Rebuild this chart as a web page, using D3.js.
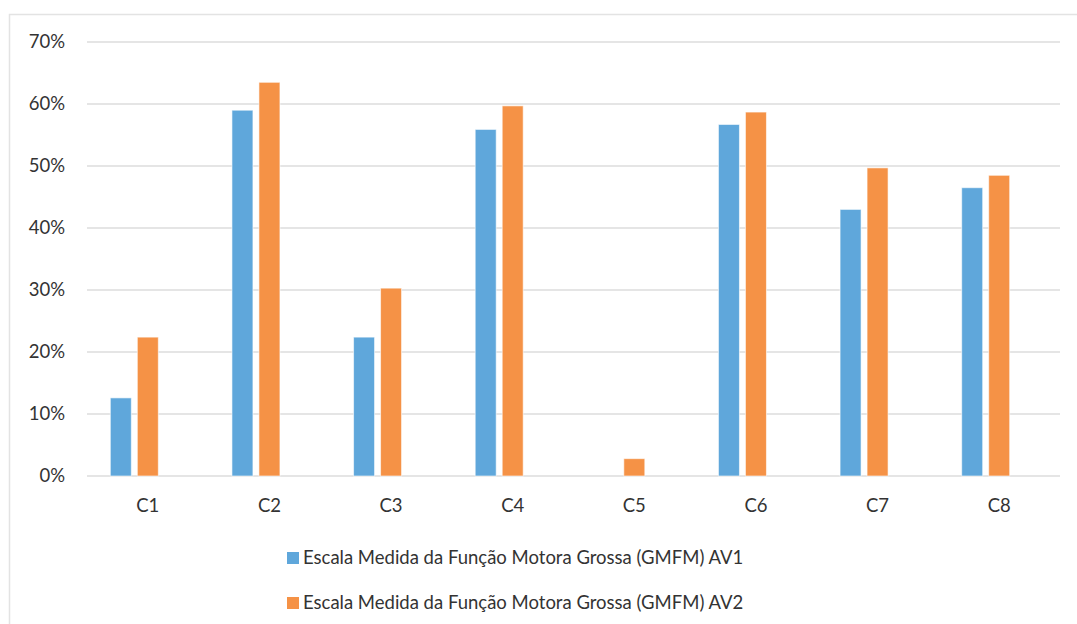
<!DOCTYPE html>
<html>
<head>
<meta charset="utf-8">
<script src="https://cdn.jsdelivr.net/npm/d3@7"></script>
<style>
  html, body { margin: 0; padding: 0; background: #fff; }
  svg { display: block; font-family: Lato, "Open Sans", sans-serif; }
</style>
</head>
<body>
<svg id="chart" width="1077" height="624"></svg>
<script>
// Chart data
const categories = ["C1", "C2", "C3", "C4", "C5", "C6", "C7", "C8"];
const seriesNames = [
  "Escala Medida da Função Motora Grossa (GMFM) AV1",
  "Escala Medida da Função Motora Grossa (GMFM) AV2"
];
const av1Values = [0.126, 0.590, 0.224, 0.559, null, 0.567, 0.430, 0.465];
const av2Values = [0.224, 0.635, 0.303, 0.597, 0.028, 0.587, 0.497, 0.485];
const yTicks = [0, 0.1, 0.2, 0.3, 0.4, 0.5, 0.6, 0.7];
const colors = ["#5fa7db", "#f59246"];

const svg = d3.select("#chart");
const W = 1077, H = 624;
const plot = { left: 87, right: 1060, top: 42, bottom: 476 };
const labelSize = 18.5;
const textColor = "#333333";

// Outer chart frame
svg.append("rect")
  .attr("x", 9.5).attr("y", 14.5)
  .attr("width", W + 10).attr("height", H + 10)
  .attr("fill", "#fff").attr("stroke", "#e3e3e3").attr("stroke-width", 1.5);

const x = d3.scaleBand().domain(categories).range([plot.left, plot.right]);
const y = d3.scaleLinear().domain([0, 0.7]).range([plot.bottom, plot.top]);

// Three slots per cluster, centred on the category (the third slot stays empty)
const clusterWidth = 75;
const sub = d3.scaleBand().domain([0, 1, 2])
  .range([(x.bandwidth() - clusterWidth) / 2, (x.bandwidth() + clusterWidth) / 2])
  .paddingInner(6 / 27).paddingOuter(0);

// Gridlines
svg.append("g").selectAll("line").data(yTicks).join("line")
  .attr("x1", plot.left).attr("x2", plot.right)
  .attr("y1", d => y(d)).attr("y2", d => y(d))
  .attr("stroke", "#dcdcdc").attr("stroke-width", 1.5);

// Y axis labels
const yAxis = d3.axisLeft(y).tickValues(yTicks).tickFormat(d3.format(".0%")).tickSize(0).tickPadding(22);
const gy = svg.append("g").attr("transform", `translate(${plot.left},0)`).call(yAxis);
gy.select(".domain").remove();
gy.selectAll("text").attr("font-size", labelSize).attr("fill", textColor).attr("font-family", "Lato, sans-serif");

// X axis labels
const xAxis = d3.axisBottom(x).tickSize(0).tickPadding(23);
const gx = svg.append("g").attr("transform", `translate(0,${plot.bottom})`).call(xAxis);
gx.select(".domain").remove();
gx.selectAll("text").attr("font-size", labelSize).attr("fill", textColor).attr("font-family", "Lato, sans-serif");

// Bars
const seriesData = [av1Values, av2Values];
seriesData.forEach((vals, si) => {
  svg.append("g").selectAll("rect")
    .data(categories.map((c, i) => ({ c, v: vals[i] })).filter(d => d.v != null))
    .join("rect")
    .attr("x", d => x(d.c) + sub(si))
    .attr("width", sub.bandwidth())
    .attr("y", d => y(d.v))
    .attr("height", d => y(0) - y(d.v))
    .attr("fill", colors[si])
    .attr("stroke", "#fff").attr("stroke-opacity", 0.6).attr("stroke-width", 1);
});

// Legend
const legend = svg.append("g");
seriesNames.forEach((name, i) => {
  const ly = 557 + i * 45;
  legend.append("rect")
    .attr("x", 287).attr("y", ly - 5).attr("width", 12).attr("height", 12)
    .attr("fill", colors[i]);
  legend.append("text")
    .attr("x", 303).attr("y", ly + 7)
    .attr("font-size", labelSize).attr("fill", textColor)
    .text(name);
});
</script>
</body>
</html>
